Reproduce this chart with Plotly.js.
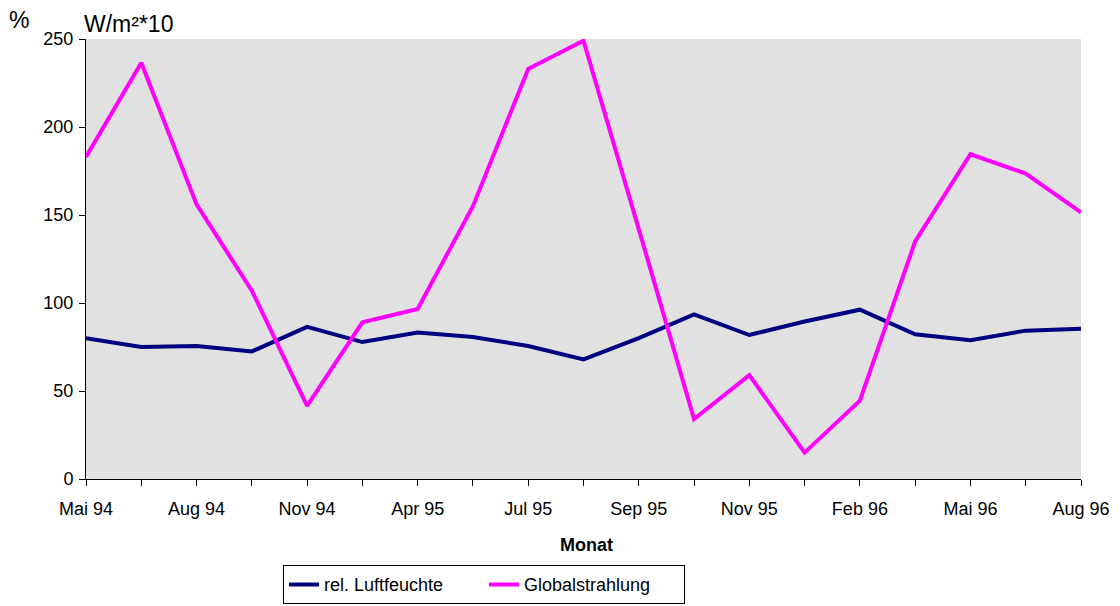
<!DOCTYPE html>
<html>
<head>
<meta charset="utf-8">
<script src="https://cdn.plot.ly/plotly-3.0.1.min.js"></script>
<style>html,body{margin:0;padding:0;background:#fff;}#chart{width:1120px;height:606px;}</style>
</head>
<body>
<div id="chart"></div>
<script>
const months = ["Mai 94","Jun 94","Aug 94","Sep 94","Nov 94","Dez 94","Apr 95","Mai 95","Jul 95","Aug 95","Sep 95","Okt 95","Nov 95","Dez 95","Feb 96","Mrz 96","Mai 96","Jun 96","Aug 96"];
const tickLabels = ["Mai 94","","Aug 94","","Nov 94","","Apr 95","","Jul 95","","Sep 95","","Nov 95","","Feb 96","","Mai 96","","Aug 96"];
const luftfeuchte = [80, 75, 75.6, 72.5, 86.4, 77.8, 83.2, 80.7, 75.6, 68, 80, 93.5, 81.8, 89.5, 96.2, 82.2, 78.8, 84.3, 85.3];
const globalstrahlung = [183, 236.5, 156, 107, 41.5, 89, 96.6, 155, 233, 249, 142, 34, 59, 15, 44.5, 135, 184.5, 173.5, 151.5];

const fam = "Liberation Sans, Arial, sans-serif";
const font = {family: fam, size: 18, color: "#000"};

const data = [
  {x: months, y: luftfeuchte, type: "scatter", mode: "lines", name: "rel. Luftfeuchte",
   line: {color: "#000080", width: 4}},
  {x: months, y: globalstrahlung, type: "scatter", mode: "lines", name: "Globalstrahlung",
   line: {color: "#FF00FF", width: 4}}
];

const layout = {
  width: 1120, height: 606,
  margin: {l: 86, r: 39, t: 39, b: 127},
  paper_bgcolor: "#ffffff",
  plot_bgcolor: "#e1e1e1",
  font: font,
  showlegend: true,
  legend: {orientation: "h", x: 0.4, xanchor: "center", xref: "paper",
           y: 0.003, yanchor: "bottom", yref: "container",
           entrywidth: 155, entrywidthmode: "pixels",
           bordercolor: "#000", borderwidth: 1, bgcolor: "#fff", font: font,
           tracegroupgap: 0},
  xaxis: {type: "category", range: [0, months.length - 1], automargin: false,
          tickmode: "array", tickvals: months, ticktext: tickLabels,
          ticks: "outside", ticklen: 6, tickcolor: "#000", tickwidth: 1,
          ticklabelstandoff: 7,
          showline: true, linecolor: "#000", linewidth: 1,
          showgrid: false, zeroline: false, tickfont: font, fixedrange: true},
  yaxis: {range: [0, 250], tickvals: [0, 50, 100, 150, 200, 250], automargin: false,
          ticks: "outside", ticklen: 6, tickcolor: "#000",
          ticklabelstandoff: 2,
          showline: true, linecolor: "#000", linewidth: 1,
          showgrid: false, zeroline: false, tickfont: font, fixedrange: true},
  annotations: [
    {text: "%", xref: "paper", yref: "paper", x: -0.067, y: 1.043, xanchor: "center", yanchor: "middle",
     showarrow: false, font: {family: fam, size: 23, color: "#000"}},
    {text: "W/m²*10", xref: "paper", yref: "paper", x: -0.004, y: 1.034, xanchor: "left", yanchor: "middle",
     showarrow: false, font: {family: fam, size: 23, color: "#000"}},
    {text: "<b>Monat</b>", xref: "paper", yref: "paper", x: 0.503, y: -0.15, xanchor: "center", yanchor: "middle",
     showarrow: false, font: {family: fam, size: 18, color: "#000"}}
  ]
};

Plotly.newPlot("chart", data, layout, {displayModeBar: false, staticPlot: true});
</script>
</body>
</html>
